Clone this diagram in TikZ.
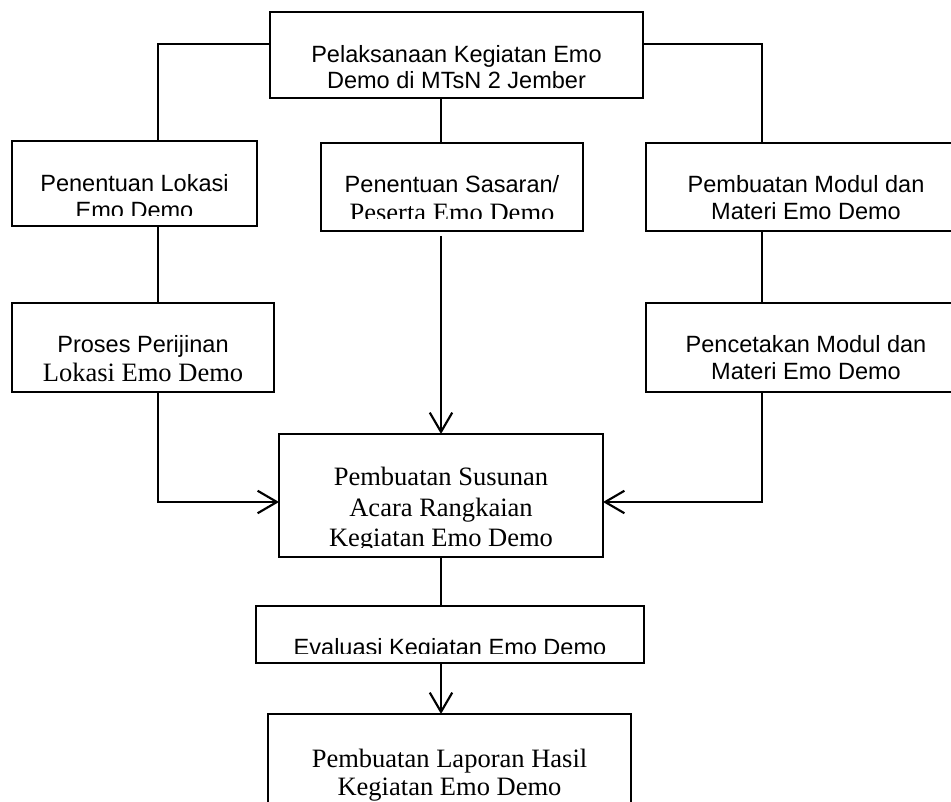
\documentclass[tikz,border=0pt]{standalone}
\usepackage{fontspec}
\usetikzlibrary{arrows.meta}
\newfontfamily\arialf{Liberation Sans}
\newfontfamily\timesf{Liberation Serif}
\begin{document}
\begin{tikzpicture}[x=0.4675pt,y=-0.4675pt,
  box/.style={draw, line width=0.55pt, inner sep=0pt, outer sep=0pt},
  sans/.style={anchor=base, inner sep=0pt, font=\arialf\fontsize{11}{13}\selectfont},
  serif/.style={anchor=base, inner sep=0pt, font=\timesf\fontsize{12.4}{14}\selectfont},
  link/.style={line width=0.65pt},
  arr/.style={line width=1pt, -{Straight Barb[length=9pt,width=10.5pt,line width=1pt]}}]
\useasboundingbox (0,0) rectangle (951,802);

% boxes
\node[box, minimum width=373*0.4675pt, minimum height=86*0.4675pt] (top) at (456.5,55) {};
\node[box, minimum width=245*0.4675pt, minimum height=85*0.4675pt] (lb1) at (134.5,183.5) {};
\node[box, minimum width=262*0.4675pt, minimum height=88*0.4675pt] (cb1) at (452,187) {};
\node[box, minimum width=320*0.4675pt, minimum height=88*0.4675pt] (rb1) at (806,187) {};
\node[box, minimum width=262*0.4675pt, minimum height=89*0.4675pt] (lb2) at (143,347.5) {};
\node[box, minimum width=320*0.4675pt, minimum height=89*0.4675pt] (rb2) at (806,347.5) {};
\node[box, minimum width=324*0.4675pt, minimum height=123*0.4675pt] (cb2) at (441,495.5) {};
\node[box, minimum width=388*0.4675pt, minimum height=57*0.4675pt] (ev) at (450,634.5) {};
\node[box, minimum width=363*0.4675pt, minimum height=96*0.4675pt] (bot) at (449.5,762) {};

% texts
\node[sans] (t1) at (456.5,63) {Pelaksanaan Kegiatan Emo};
\node[sans] (t2) at (456.5,89) {Demo di MTsN 2 Jember};

\node[sans] (l1a) at (134.5,192) {Penentuan Lokasi};
\begin{scope}
\clip (12,141) rectangle (257,216);
\node[sans] (l1b) at (134.5,219) {Emo Demo};
\end{scope}

\node[sans] (c1a) at (452,193) {Penentuan Sasaran/};
\begin{scope}
\clip (321,143) rectangle (583,219);
\node[serif] (c1b) at (452,222) {Peserta Emo Demo};
\end{scope}

\node[sans] (r1a) at (806,193) {Pembuatan Modul dan};
\node[sans] (r1b) at (806,220) {Materi Emo Demo};

\node[sans] (l2a) at (143,353) {Proses Perijinan};
\node[serif] (l2b) at (143,382) {Lokasi Emo Demo};

\node[sans] (r2a) at (806,353) {Pencetakan Modul dan};
\node[sans] (r2b) at (806,380) {Materi Emo Demo};

\node[serif] (c2a) at (441,486) {Pembuatan Susunan};
\node[serif] (c2b) at (441,516) {Acara Rangkaian};
\begin{scope}
\clip (279,434) rectangle (603,547);
\node[serif] (c2c) at (441,546) {Kegiatan Emo Demo};
\end{scope}

\begin{scope}
\clip (256,606) rectangle (644,653);
\node[sans] (eva) at (450,655) {Evaluasi Kegiatan Emo Demo};
\end{scope}

\node[serif] (b1) at (449.5,767) {Pembuatan Laporan Hasil};
\node[serif] (b2) at (449.5,795) {Kegiatan Emo Demo};

% junction coordinates
\coordinate (jl) at (158,44);
\coordinate (jr) at (762,44);
\coordinate (cx) at (441,0);
\coordinate (ly) at (0,502);

% connectors
\draw[link] (top.west |- jl) -- (jl) -- (jl |- lb1.north);
\draw[link] (top.east |- jr) -- (jr) -- (jr |- rb1.north);
\draw[link] (top.south -| cx) -- (cb1.north -| cx);
\draw[link] (lb1.south -| jl) -- (lb2.north -| jl);
\draw[link] (rb1.south -| jr) -- (rb2.north -| jr);
\draw[arr] (lb2.south -| jl) -- (jl |- ly) -- (cb2.west |- ly);
\draw[arr] (rb2.south -| jr) -- (jr |- ly) -- (cb2.east |- ly);
\draw[arr] ([yshift=-5*0.4675pt]cb1.south -| cx) -- (cb2.north -| cx);
\draw[link, line width=0.85pt] (cb2.south -| cx) -- (ev.north -| cx);
\draw[arr] (ev.south -| cx) -- (bot.north -| cx);
\end{tikzpicture}
\end{document}
